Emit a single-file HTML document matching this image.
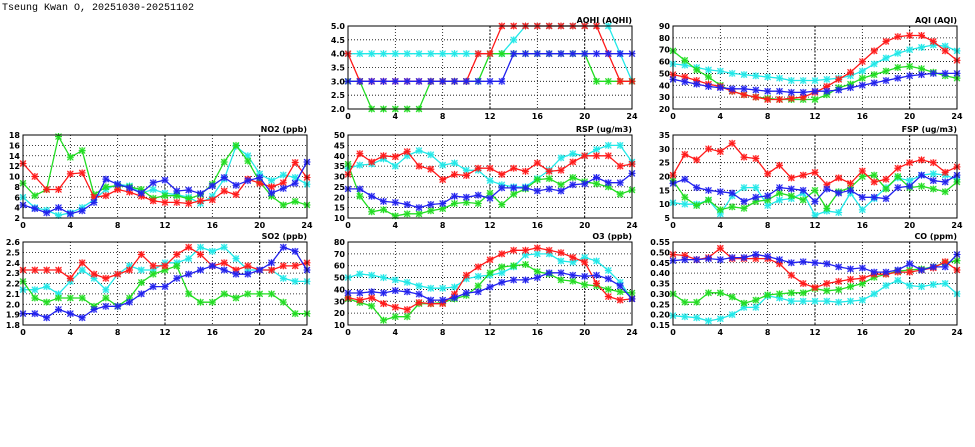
<!DOCTYPE html>
<html><head><meta charset="utf-8"><style>
html,body{margin:0;padding:0;background:#fff;width:975px;height:447px;overflow:hidden}
svg text{font-family:"DejaVu Sans","Liberation Sans",sans-serif;font-weight:bold;font-size:8px;fill:#000}
</style></head><body>
<svg id="s" width="975" height="447" xmlns="http://www.w3.org/2000/svg">
<text x="2" y="10" style="font-family:'Liberation Mono',monospace;font-size:10px;font-weight:normal">Tseung Kwan O, 20251030-20251102</text>
</svg>
<script>
const C={r:'#ff1a1a',c:'#22e8e8',g:'#22dd22',b:'#2222ee'};
const P=[
{t:'AQHI (AQHI)',x:348,y:26,min:2,max:5,step:0.5,dec:1,d:{
r:[4,3,3,3,3,3,3,3,3,3,3,4,4,5,5,5,5,5,5,5,5,5,4,3,3],
c:[4,4,4,4,4,4,4,4,4,4,4,4,4,4,4.5,5,5,5,5,5,5,5,5,4,3],
g:[3,3,2,2,2,2,2,3,3,3,3,3,4,4,4,4,4,4,4,4,4,3,3,3,3],
b:[3,3,3,3,3,3,3,3,3,3,3,3,3,3,4,4,4,4,4,4,4,4,4,4,4]},order:['c','g','r','b']},
{t:'AQI (AQI)',x:673,y:26,min:20,max:90,step:10,dec:0,d:{
r:[49,47,44,41,39,35,32,30,28,28,29,30,34,39,45,51,60,69,77,81,82,82,77,69,61],
c:[58,57,55,53,52,50,49,48,47,46,44,44,44,45,46,48,52,58,63,67,70,72,74,73,69],
g:[69,61,53,47,40,35,32,30,29,28,28,28,28,32,38,41,46,49,52,55,56,54,51,48,46],
b:[45,43,41,39,38,37,37,36,35,35,34,34,35,35,36,38,40,42,44,46,48,49,50,50,50]}},
{t:'NO2 (ppb)',x:23,y:135,min:2,max:18,step:2,dec:0,d:{
r:[12.5,10,7.5,7.5,10.5,10.7,6,6.3,7.5,7,6.2,5.3,5,5,4.8,5.3,5.5,7.2,6.5,9.5,8.7,8,8.8,12.7,9.8],
g:[8.7,6.3,7.5,17.7,13.7,15,6.5,8,8.2,8,7.5,5.8,6.3,6.3,5.7,6.5,8.5,12.8,16,13,9,6.2,4.5,5.2,4.5],
c:[6,4,3.5,2.5,3,4,5.5,7.5,8.5,8.2,6.8,7.5,6.8,6.5,6,4.8,6.2,9.5,15.8,14,10.5,9.2,10.3,9.8,8.5],
b:[4.5,3.8,3,4,2.8,3.4,5,9.5,8.5,7.8,6.8,8.8,9.3,7.2,7.4,6.7,8.2,9.8,8.3,9.2,9.8,6.8,7.7,8.7,12.8]}},
{t:'RSP (ug/m3)',x:348,y:135,min:10,max:50,step:5,dec:0,d:{
r:[31,41,37,40,39.5,42,35,33.5,28.5,31,30.5,34,34,31,34,32.5,36.5,32.5,33,37,40,40,40,35,36],
c:[34,35.5,36,38.5,35,40,42.5,40.5,35.5,36.5,33,33,28,26,25,25,29,33,39,41,40,43,45,45,37],
g:[36,20.5,13,14,11,12,12,13.5,14.5,17,17.5,17,22,16.5,21.5,24,28.5,29,26,29.5,27.5,26.5,25,21.5,23.5],
b:[24,24,20.5,18,17.5,16.5,15,16.5,17,20.5,20,21,19.5,24.5,24.5,24.5,23,24,23,26,26.5,29.5,27,27,31.5]}},
{t:'FSP (ug/m3)',x:673,y:135,min:5,max:35,step:5,dec:0,d:{
r:[20.5,28,26,30,29,32,27,26.5,21,24,19.5,20.5,21.5,17,19.5,17.5,22,18,19,23,25,26,25,21.5,23.5],
c:[10.5,10,10,11.5,6.5,13,16,16,9.5,11.5,12,14,6,7.5,7,14,8,12,16,19.5,18.5,20.5,21,20.5,19],
g:[18.5,12.5,9.5,11.5,8,9,8.5,11,11.5,14,13,11.5,15,8.5,14.5,16,20,20.5,15.5,20,16,16.5,15.5,14.5,18],
b:[17.5,19,16,15,14.5,14,11,12.5,13,16,15.5,15,11,15.5,14,15,12.5,12.5,12,16,16.5,20.5,18.5,18,20.5]}},
{t:'SO2 (ppb)',x:23,y:242,min:1.8,max:2.6,step:0.1,dec:1,d:{
r:[2.33,2.33,2.33,2.33,2.25,2.4,2.29,2.25,2.29,2.33,2.48,2.37,2.37,2.48,2.55,2.48,2.37,2.4,2.33,2.37,2.33,2.33,2.37,2.37,2.4],
c:[2.14,2.14,2.17,2.1,2.22,2.33,2.25,2.14,2.29,2.37,2.33,2.33,2.4,2.4,2.44,2.55,2.51,2.55,2.44,2.33,2.33,2.33,2.25,2.22,2.22],
g:[2.22,2.06,2.02,2.06,2.06,2.06,1.98,2.06,1.98,2.06,2.21,2.29,2.33,2.37,2.1,2.02,2.02,2.1,2.06,2.1,2.1,2.1,2.02,1.91,1.91],
b:[1.91,1.91,1.87,1.95,1.91,1.87,1.95,1.98,1.98,2.02,2.1,2.17,2.17,2.25,2.29,2.33,2.37,2.33,2.29,2.29,2.33,2.4,2.55,2.51,2.33]}},
{t:'O3 (ppb)',x:348,y:242,min:10,max:80,step:10,dec:0,d:{
r:[33,31,33,28,25,23,29,28,28,36,52,59,65,70,73,73,75,73,71,67,63,45,34,31,32],
c:[50,53,52,50,48,46,43,41,41,42,49,51,52,54,59,69,70,70,64,63,67,64,56,46,32],
g:[32,29,26,14,17,17,28,28,29,32,35,43,54,59,60,61,55,53,48,47,44,43,40,38,37],
b:[37,37,38,37,39,38,36,31,31,33,37,38,42,46,48,48,50,54,54,52,51,52,49,43,32]}},
{t:'CO (ppm)',x:673,y:242,min:0.15,max:0.55,step:0.05,dec:2,d:{
r:[.49,.485,.465,.475,.52,.47,.47,.47,.47,.445,.39,.35,.33,.35,.36,.37,.375,.395,.395,.405,.405,.415,.425,.455,.415],
b:[.46,.465,.465,.47,.465,.475,.475,.49,.48,.465,.45,.455,.45,.445,.43,.42,.425,.405,.405,.415,.445,.415,.43,.43,.49],
g:[.30,.26,.26,.305,.305,.285,.255,.27,.295,.30,.305,.305,.325,.315,.32,.335,.35,.38,.395,.41,.415,.42,.43,.45,.46],
c:[.195,.19,.185,.17,.18,.20,.235,.235,.29,.28,.265,.265,.265,.265,.26,.265,.27,.30,.34,.365,.34,.335,.345,.35,.30]}}
];
const W=284,H=83;let o='';
for(const p of P){
 const X=i=>p.x+i*W/24, Y=v=>p.y+H-(v-p.min)/(p.max-p.min)*H;
 o+=`<text x="${p.x+W}" y="${p.y-3}" text-anchor="end">${p.t}</text>`;
 const n=Math.round((p.max-p.min)/p.step);
 for(let k=0;k<=n;k++){const v=p.min+k*p.step,y=Y(v);
  if(k>0&&k<n)o+=`<line x1="${p.x}" x2="${p.x+W}" y1="${y}" y2="${y}" stroke="#000" stroke-width="0.8" stroke-dasharray="1,2"/>`;
  o+=`<text x="${p.x-3}" y="${y+3}" text-anchor="end">${v.toFixed(p.dec)}</text>`;}
 for(let h=0;h<=24;h+=4){const x=X(h);
  if(h>0&&h<24)o+=`<line x1="${x}" x2="${x}" y1="${p.y}" y2="${p.y+H}" stroke="#000" stroke-width="${h==12||h==20?1:0.8}" stroke-dasharray="${h==12||h==20?'2,1.5':'1,2'}"/>`;
  o+=`<text x="${x}" y="${p.y+H+10}" text-anchor="middle">${h}</text>`;}
 for(const s of (p.order||['c','g','r','b'])){const a=p.d[s];if(!a)continue;
  o+=`<polyline fill="none" stroke="${C[s]}" stroke-width="1.3" points="${a.map((v,i)=>X(i).toFixed(1)+','+Y(v).toFixed(1)).join(' ')}"/>`;
  a.forEach((v,i)=>{const x=X(i),y=Y(v);
   o+=`<rect x="${x-3}" y="${y-3}" width="6" height="6" fill="${C[s]}" opacity="0.35"/><path d="M${x-3} ${y-3}L${x+3} ${y+3}M${x+3} ${y-3}L${x-3} ${y+3}M${x-3.5} ${y}H${x+3.5}M${x} ${y-3.5}V${y+3.5}" stroke="${C[s]}" stroke-width="1"/>`;});}
 o+=`<rect x="${p.x}" y="${p.y}" width="${W}" height="${H}" fill="none" stroke="#000" stroke-width="1"/>`;
}
document.getElementById('s').insertAdjacentHTML('beforeend',o);
</script>
</body></html>
